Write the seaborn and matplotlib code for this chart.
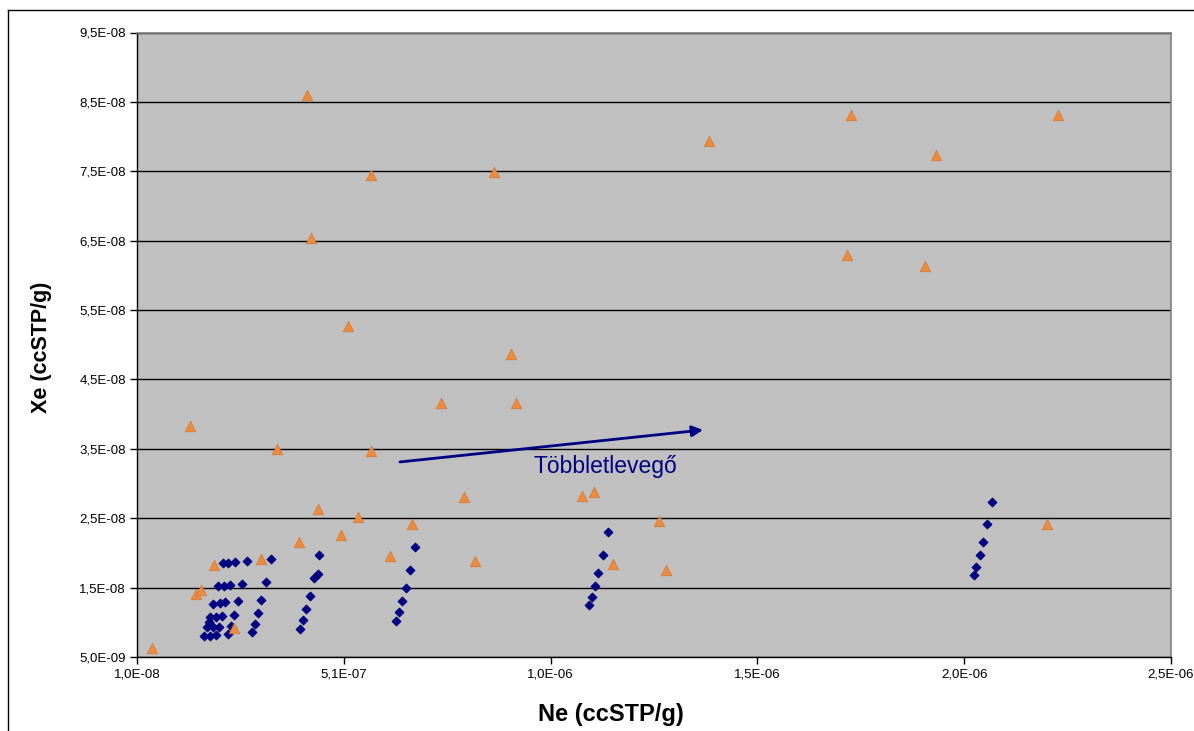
import matplotlib
matplotlib.use("Agg")
import matplotlib.pyplot as plt
from matplotlib.lines import Line2D
import seaborn as sns
import pandas as pd
import numpy as np

# ---- data ----
ne_blue = [
    2.17e-7, 2.06e-7, 1.945e-7, 1.872e-7, 1.848e-7, 1.793e-7, 1.713e-7,
    2.308e-7, 2.196e-7, 2.10e-7, 2.01e-7, 1.93e-7, 1.865e-7,
    2.462e-7, 2.349e-7, 2.235e-7, 2.155e-7, 2.075e-7, 2.017e-7,
    2.752e-7, 2.632e-7, 2.542e-7, 2.445e-7, 2.366e-7, 2.308e-7,
    3.34e-7, 3.212e-7, 3.105e-7, 3.018e-7, 2.96e-7, 2.881e-7,
    4.493e-7, 4.469e-7, 4.372e-7, 4.276e-7, 4.179e-7, 4.106e-7, 4.048e-7,
    6.822e-7, 6.708e-7, 6.592e-7, 6.515e-7, 6.44e-7, 6.362e-7,
    1.1476e-6, 1.136e-6, 1.1247e-6, 1.117e-6, 1.1094e-6, 1.1034e-6,
    2.0774e-6, 2.066e-6, 2.0563e-6, 2.0476e-6, 2.0394e-6, 2.033e-6,
]
xe_blue = [
    1.85e-8, 1.52e-8, 1.27e-8, 1.078e-8, 1.006e-8, 9.29e-9, 8.04e-9,
    1.86e-8, 1.529e-8, 1.28e-8, 1.082e-8, 9.29e-9, 8.04e-9,
    1.87e-8, 1.539e-8, 1.294e-8, 1.088e-8, 9.38e-9, 8.14e-9,
    1.885e-8, 1.558e-8, 1.308e-8, 1.111e-8, 9.48e-9, 8.29e-9,
    1.909e-8, 1.578e-8, 1.327e-8, 1.135e-8, 9.73e-9, 8.62e-9,
    1.967e-8, 1.693e-8, 1.636e-8, 1.385e-8, 1.193e-8, 1.035e-8, 9.05e-9,
    2.082e-8, 1.751e-8, 1.50e-8, 1.306e-8, 1.146e-8, 1.02e-8,
    2.298e-8, 1.967e-8, 1.716e-8, 1.52e-8, 1.362e-8, 1.246e-8,
    2.739e-8, 2.414e-8, 2.159e-8, 1.967e-8, 1.803e-8, 1.679e-8,
]
ne_orange = [
    4.63e-8, 1.38e-7, 1.527e-7, 1.64e-7, 1.962e-7, 2.453e-7, 3.091e-7,
    3.485e-7, 4.01e-7, 4.21e-7, 4.307e-7, 4.476e-7, 5.04e-7, 5.2e-7,
    5.443e-7, 5.758e-7, 5.758e-7, 6.225e-7, 6.75e-7, 7.45e-7, 8.0e-7,
    8.28e-7, 8.732e-7, 9.143e-7, 9.264e-7, 1.086e-6, 1.1143e-6, 1.160e-6,
    1.273e-6, 1.289e-6, 1.393e-6, 1.7268e-6, 1.7364e-6, 1.915e-6,
    1.942e-6, 2.2096e-6, 2.237e-6,
]
xe_orange = [
    6.3e-9, 3.83e-8, 1.414e-8, 1.467e-8, 1.827e-8, 9.15e-9, 1.918e-8,
    3.5e-8, 2.163e-8, 8.6e-8, 6.54e-8, 2.634e-8, 2.26e-8, 5.27e-8,
    2.523e-8, 7.447e-8, 3.47e-8, 1.961e-8, 2.422e-8, 4.16e-8, 2.811e-8,
    1.885e-8, 7.49e-8, 4.868e-8, 4.16e-8, 2.826e-8, 2.883e-8, 1.846e-8,
    2.461e-8, 1.759e-8, 7.937e-8, 6.294e-8, 8.31e-8, 6.136e-8,
    7.735e-8, 2.414e-8, 8.31e-8,
]

x_ticks = [1e-8 + k * 5e-7 for k in range(6)]
y_ticks = [5e-9 + k * 1e-8 for k in range(10)]
x_label = "Ne (ccSTP/g)"
y_label = "Xe (ccSTP/g)"
arrow_text = "Többletlevegő"
arrow_start = (6.459e-7, 3.311e-8)
arrow_end = (1.3785e-6, 3.772e-8)
text_pos = (9.675e-7, 3.24e-8)

df_blue = pd.DataFrame({"Ne": ne_blue, "Xe": xe_blue})
df_orange = pd.DataFrame({"Ne": ne_orange, "Xe": xe_orange})

plt.rcParams["font.family"] = ["Liberation Sans", "DejaVu Sans"]

W, H = 1194, 731
fig = plt.figure(figsize=(W / 100, H / 100), dpi=100)
ax = fig.add_axes([137 / W, 1 - 657 / H, (1171 - 137) / W, (657 - 32.5) / H])
ax.set_facecolor("#C0C0C0")

navy = "#000080"
orange = "#EC8A3E"

sns.scatterplot(data=df_blue, x="Ne", y="Xe", ax=ax, marker="D", s=22,
                color=navy, edgecolor=navy, linewidth=0.5, zorder=3)
sns.scatterplot(data=df_orange, x="Ne", y="Xe", ax=ax, marker="^", s=58,
                color=orange, edgecolor="#D07A3A", linewidth=0.5, zorder=3)

ax.set_xlim(x_ticks[0], x_ticks[-1])
ax.set_ylim(y_ticks[0], y_ticks[-1])
ax.set_xticks(x_ticks)
ax.set_yticks(y_ticks)
fmt = lambda v: f"{v:.1E}".replace(".", ",")
ax.set_xticklabels([fmt(v) for v in x_ticks])
ax.set_yticklabels([fmt(v) for v in y_ticks])
ax.tick_params(axis="both", direction="out", length=5, width=1, color="black",
               labelsize=9.5, pad=3)
ax.yaxis.grid(True, color="black", linewidth=1)
ax.xaxis.grid(False)
ax.set_axisbelow(True)

for s in ["top", "right"]:
    ax.spines[s].set_color("#808080")
    ax.spines[s].set_linewidth(1.2)
for s in ["left", "bottom"]:
    ax.spines[s].set_color("black")
    ax.spines[s].set_linewidth(1)

ax.set_xlabel(x_label, fontsize=17, fontweight="bold", va="center")
ax.set_ylabel(y_label, fontsize=15.5, fontweight="bold", va="center")
ax.xaxis.set_label_coords((611 - 137) / 1034, (657 - 714) / 624.5)
ax.yaxis.set_label_coords((42 - 137) / 1034, (657 - 347) / 624.5)

ax.annotate("", xy=arrow_end, xytext=arrow_start,
            arrowprops=dict(arrowstyle="-|>", color=navy, lw=2,
                            mutation_scale=16, shrinkA=0, shrinkB=0),
            zorder=4)
ax.text(text_pos[0], text_pos[1], arrow_text, color=navy, fontsize=16.5,
        ha="left", va="center", zorder=4)

# outer chart frame (left and top edges visible)
fig.add_artist(Line2D([8 / W, 8 / W], [0, 1 - 10 / H], color="black",
                      linewidth=1, transform=fig.transFigure))
fig.add_artist(Line2D([8 / W, 1], [1 - 10 / H, 1 - 10 / H], color="black",
                      linewidth=1, transform=fig.transFigure))

fig.savefig("out.png", dpi=100, facecolor="white")
